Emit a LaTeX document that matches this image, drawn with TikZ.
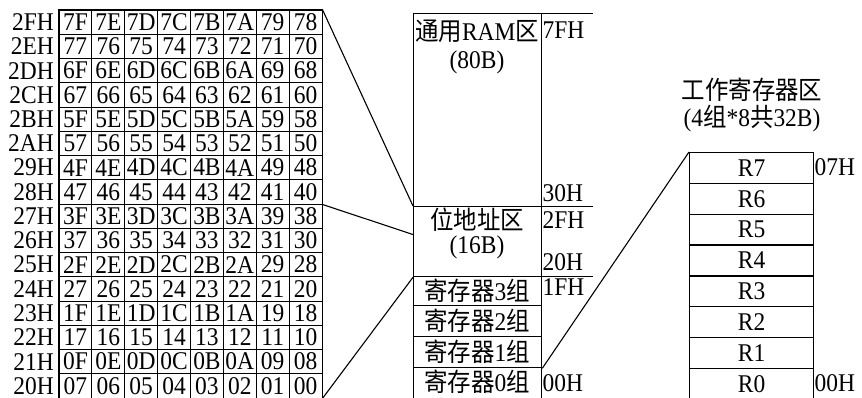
\documentclass[tikz,border=0pt]{standalone}
\usepackage{fontspec}
\setmainfont{Liberation Serif}[FakeStretch=0.92]
\newfontfamily\cjk{Noto Sans CJK SC}[FakeStretch=0.92]
\usetikzlibrary{calc}
\begin{document}
\begin{tikzpicture}[x=1pt,y=-1pt,
  txt/.style={font=\fontsize{25.5}{30}\selectfont, inner sep=0pt},
  cell/.style={draw, line width=0.9pt, minimum width=32.875pt, minimum height=24.25pt, inner sep=0pt, font=\fontsize{25.5}{30}\selectfont},
  box/.style={draw, line width=1.3pt, inner sep=0pt, minimum width=128pt, font=\fontsize{25.5}{30}\selectfont},
  lbl/.style={txt, anchor=west, inner sep=1.5pt},
  conn/.style={line width=1.1pt},
  ext/.style={line width=0.9pt}]
\useasboundingbox (0,0) rectangle (862,397);
% bit-addressable grid
\foreach \k [count=\r from 0] in {15,14,...,0} {
  \pgfmathtruncatemacro\hi{\k/2}
  \pgfmathparse{Hex(\k)}\let\kh\pgfmathresult
  \ifodd\k\relax \def\lolist{F,E,D,C,B,A,9,8}\else\def\lolist{7,6,5,4,3,2,1,0}\fi
  \node[txt, anchor=east] (row-\r) at (54, {10+24.25*(\r+0.5)}) {2\kh H};
  \foreach \lo [count=\c from 0] in \lolist {
    \node[cell] (c-\r-\c) at ({59+32.875*(\c+0.5)}, {10+24.25*(\r+0.5)}) {\hi\lo};
  }
}
\draw[line width=1.8pt] (c-0-0.north west) rectangle (c-15-7.south east);
% middle memory map
\node[box, minimum height=193pt, anchor=north west] (ram) at (413,13) {};
\node[box, minimum height=70pt, anchor=north west] (bit) at (413,206) {};
\node[box, minimum height=29pt, anchor=north west] (g3) at (413,276) {};
\node[box, minimum height=31pt, anchor=north west] (g2) at (413,305) {};
\node[box, minimum height=31pt, anchor=north west] (g1) at (413,336) {};
\node[box, minimum height=32pt, anchor=north west] (g0) at (413,367) {};
\node[txt] (ramt) at (477,31) {{\cjk 通用}RAM{\cjk 区}};
\node[txt] (ramb) at (477,62) {(80B)};
\node[txt] (bitt) at (477,220) {\cjk 位地址区};
\node[txt] (bitb) at (477,247) {(16B)};
\node[txt] (g3t) at (477,290.5) {{\cjk 寄存器}3{\cjk 组}};
\node[txt] (g2t) at (477,320.5) {{\cjk 寄存器}2{\cjk 组}};
\node[txt] (g1t) at (477,351.5) {{\cjk 寄存器}1{\cjk 组}};
\node[txt] (g0t) at (477,382) {{\cjk 寄存器}0{\cjk 组}};
\node[lbl] (a7f) at (541,30) {7FH};
\node[lbl] (a30) at (541,193) {30H};
\node[lbl] (a2f) at (541,220) {2FH};
\node[lbl] (a20) at (541,262) {20H};
\node[lbl] (a1f) at (541,287) {1FH};
\node[lbl] (a00) at (541,383) {00H};
\coordinate (e1) at (593,13);
\coordinate (e2) at (593,206);
\coordinate (e3) at (593,276);
\draw[ext] (ram.north east) -- (e1);
\draw[ext] (bit.north east) -- (e2);
\draw[ext] (g3.north east) -- (e3);
% working registers
\foreach \n [count=\i from 0] in {7,6,...,0} {
  \node[box, minimum width=124pt, minimum height=30.8pt, anchor=north west] (r\n) at (689, {152+30.8*\i}) {R\n};
}
\node[lbl] (r07) at (813,167) {07H};
\node[lbl] (r00) at (813,383) {00H};
\node[txt] (title) at (752,90) {\cjk 工作寄存器区};
\node[txt] (subtitle) at (752,118) {(4{\cjk 组}*8{\cjk 共}32B)};
% connectors
\draw[conn] (c-0-7.north east) -- (bit.north west);
\coordinate (bitm) at ($(bit.north west)!0.4!(bit.south west)$);
\draw[conn] (c-7-7.south east) -- (bitm);
\draw[conn] (c-15-7.south east) -- (bit.south west);
\draw[conn] (g1.south east) -- (r7.north west);
\end{tikzpicture}
\end{document}
